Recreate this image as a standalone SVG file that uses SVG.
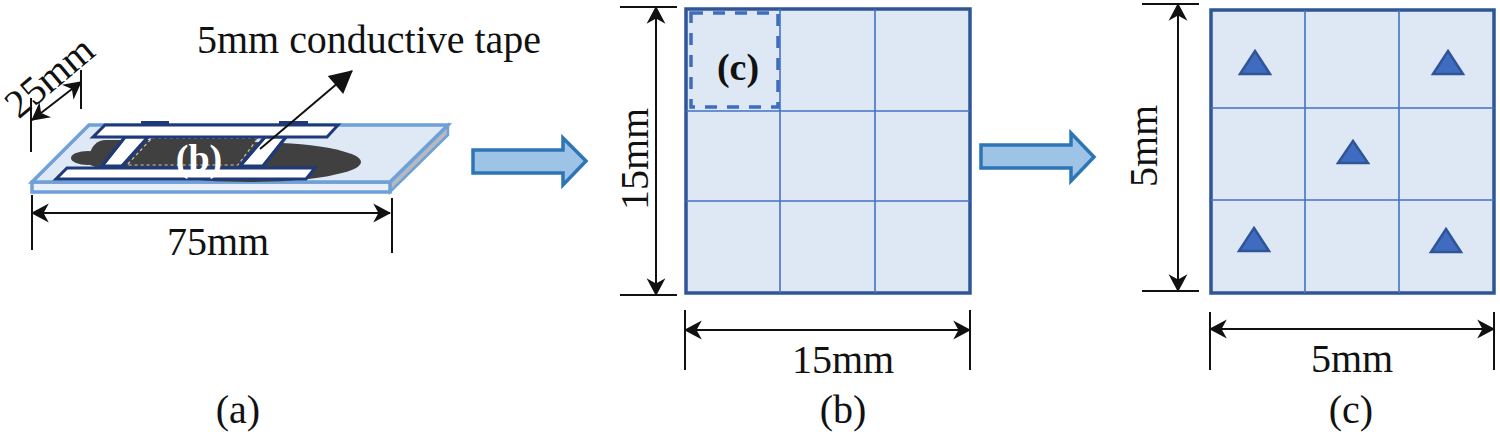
<svg xmlns="http://www.w3.org/2000/svg" width="1500" height="441" viewBox="0 0 1500 441">
<style>
text{font-family:"Liberation Serif","Times New Roman",serif;fill:#111;font-size:40px;text-anchor:middle}
.dim{stroke:#111;stroke-width:2;fill:none}
.dima{stroke:#111;stroke-width:2;fill:none;marker-start:url(#open);marker-end:url(#open)}
.panel{fill:#dee8f5;stroke:#2f5597;stroke-width:3.5}
.grid{stroke:#4472c4;stroke-width:1.6;fill:none}
.flow{fill:#9dc3e6;stroke:#2e75b6;stroke-width:3.5}
.tri{fill:#3f6cc0;stroke:#2f5597;stroke-width:2.5}
.elec{fill:#fff;stroke:#1f3a7a;stroke-width:3;stroke-linejoin:miter}
</style>
<defs>
<marker id="open" viewBox="0 0 20 20" refX="17" refY="10" markerWidth="21" markerHeight="21" markerUnits="userSpaceOnUse" orient="auto-start-reverse"><path d="M1 1L18 10L1 19L6 10Z" fill="#111"/></marker>
<marker id="solid" viewBox="0 0 24 24" refX="22" refY="12" markerWidth="26" markerHeight="26" markerUnits="userSpaceOnUse" orient="auto"><path d="M2 1L23 12L2 23Z" fill="#111"/></marker>
</defs>
<g id="slide">
<path d="M390 182L448 125V135L390 192Z" fill="#b4bac2" stroke="#6fa0d8" stroke-width="2.5"/>
<rect x="32" y="182" width="358" height="10" fill="#e9f0f9" stroke="#6fa0d8" stroke-width="3.5"/>
<path d="M89 125H448L390 182H32Z" fill="#dfe9f6" stroke="#6fa0d8" stroke-width="3.5"/>
<ellipse cx="248" cy="162" rx="113" ry="20" fill="#404040"/>
<ellipse cx="88" cy="158" rx="17" ry="7" fill="#404040"/>
<path d="M90 153C92 146 97 140 106 140H200V176H120L90 165Z" fill="#404040"/>
<path d="M152 138H258L238 165H127Z" fill="#404040" stroke="#c8c8c8" stroke-width="1.2" stroke-dasharray="3 3"/>
</g>
<g id="electrodes">
<path d="M142 124V122H168V124ZM280 124V122H307V124Z" fill="#1f3a7a" stroke="#1f3a7a" stroke-width="2"/>
<path class="elec" d="M125 137H148L122 166H102Z" stroke="none"/>
<path class="elec" d="M265 137H286L263 166H240Z" stroke="none"/>
<path d="M125 137L102 166M148 137L122 166M265 137L240 166M286 137L263 166" stroke="#1f3a7a" stroke-width="3" fill="none"/>
<path class="elec" d="M105 125H338L327 137H93Z"/>
<path class="elec" d="M67 168H315L306 179H56Z"/>
</g>
<text id="label-b-inner" x="199" y="171" style="fill:#fff;font-weight:bold;font-size:38px">(b)</text>
<g id="connectors">
<path class="dim" d="M31 98V152M81 70V109M32 195V250M392 198V253"/>
<path class="dima" d="M32 120L81 82"/>
<path class="dima" d="M32 213H390"/>
<path class="dim" d="M260 149L352 71" marker-end="url(#solid)"/>
<path class="dim" d="M620 7H677M620 295H677M685 310V370M970 310V370"/>
<path class="dima" d="M656 7V295"/>
<path class="dima" d="M685 330H970"/>
<path class="dim" d="M1142 4H1199M1142 291H1199M1210 312V370M1494 312V370"/>
<path class="dima" d="M1178 4V291"/>
<path class="dima" d="M1210 329H1494"/>
</g>
<g id="flow-arrows">
<path class="flow" d="M473 150H563V138L586 161L563 185V173H473Z"/>
<path class="flow" d="M981 145H1071V133L1094 157L1071 181V168H981Z"/>
</g>
<g id="panel-b">
<rect class="panel" x="686" y="9" width="284" height="284"/>
<path class="grid" d="M780 9V293M875 9V293M686 111H970M686 201H970"/>
<rect x="691" y="13" width="87" height="94" fill="none" stroke="#3f6cc0" stroke-width="3.5" stroke-dasharray="12 10"/>
<text x="738" y="80" style="font-weight:bold;font-size:38px">(c)</text>
</g>
<g id="panel-c">
<rect class="panel" x="1211" y="10" width="283" height="283"/>
<path class="grid" d="M1305 10V293M1399 10V293M1211 108H1494M1211 200H1494"/>
<path class="tri" d="M1255 51L1270 74H1240Z"/>
<path class="tri" d="M1448 51L1463 74H1433Z"/>
<path class="tri" d="M1353 141L1368 163H1338Z"/>
<path class="tri" d="M1254 228L1269 251H1239Z"/>
<path class="tri" d="M1446 229L1461 252H1431Z"/>
</g>
<g id="labels">
<text x="369" y="53" textLength="344" lengthAdjust="spacingAndGlyphs">5mm conductive tape</text>
<text transform="translate(58 87) rotate(-40)" x="0" y="0">25mm</text>
<text x="218" y="255">75mm</text>
<text transform="translate(648 159) rotate(-90)" x="0" y="0">15mm</text>
<text x="843" y="373">15mm</text>
<text transform="translate(1157 146) rotate(-90)" x="0" y="0">5mm</text>
<text x="1352" y="372">5mm</text>
<text x="238" y="423">(a)</text>
<text x="843" y="423">(b)</text>
<text x="1351" y="423">(c)</text>
</g>
</svg>
